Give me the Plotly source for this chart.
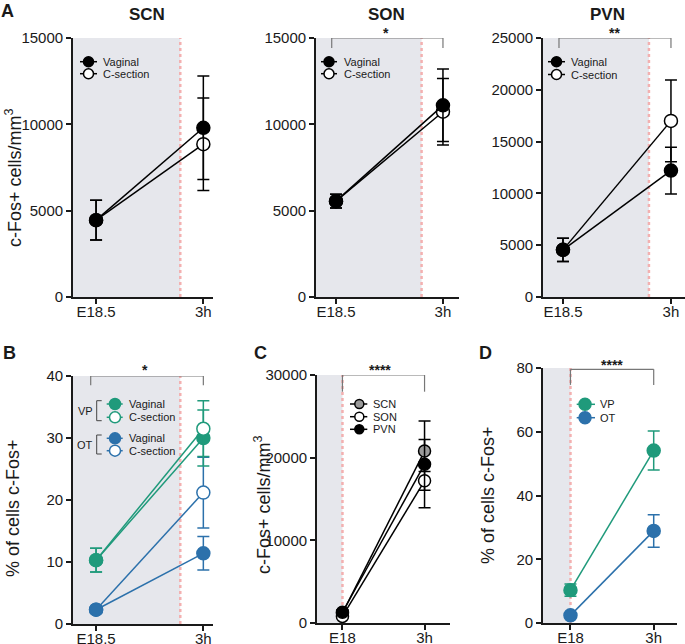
import plotly.graph_objects as go

W, H = 685, 644
FONT = "Liberation Sans, Arial, Helvetica, sans-serif"

# ---------------- data ----------------
cats_A = ["E18.5", "3h"]
cats_C = ["E18", "3h"]

scn_vag = [4450, 9800];   scn_vag_err = [1150, 3000]
scn_cs = [4450, 8850];    scn_cs_err = [1150, 2680]
son_vag = [5550, 11100];  son_vag_err = [400, 2100]
son_cs = [5550, 10730];   son_cs_err = [400, 1930]
pvn_vag = [4550, 12200];  pvn_vag_err = [1120, 2260]
pvn_cs = [4550, 17000];   pvn_cs_err = [1120, 3950]

vp_vag = [10.3, 30.0];    vp_vag_err = [1.9, 4.5]
vp_cs = [10.3, 31.5];     vp_cs_err = [1.9, 4.5]
ot_vag = [2.3, 11.4];     ot_vag_err = [0.3, 2.7]
ot_cs = [2.3, 21.2];      ot_cs_err = [0.3, 5.7]

c_scn = [1200, 20800];    c_scn_err = [300, 1400]
c_son = [800, 17200];     c_son_err = [200, 1130]
c_pvn = [1300, 19200];    c_pvn_err = [300, 5250]

d_vp = [10.3, 54.1];      d_vp_err = [1.9, 6.1]
d_ot = [2.4, 28.9];       d_ot_err = [0.4, 5.1]

ticks_A = [0, 5000, 10000, 15000]
ticks_PVN = [0, 5000, 10000, 15000, 20000, 25000]
ticks_B = [0, 10, 20, 30, 40]
ticks_C = [0, 10000, 20000, 30000]
ticks_D = [0, 20, 40, 60, 80]

TEAL = "#1f9a7b"
BLUE = "#2c71ab"
GRAY_FILL = "#9a9a9a"
SHADE = "#e6e7ec"
RED = "#f3b0b0"
AX = "#1a1a1a"


def px(x):
    return x / W


def py(y):
    return 1 - y / H


# panel geometry (pixels): id, left, right, top, bottom, xrange, yrange, ticks, cats, redline
panels = [
    ("", 73, 213, 38, 297, [-0.215, 1.09], [0, 15000], ticks_A, cats_A, 0.785),
    ("2", 316, 459, 38, 297, [-0.187, 1.15], [0, 15000], ticks_A, cats_A, 0.80),
    ("3", 543, 685, 38, 297, [-0.185, 1.13], [0, 25000], ticks_PVN, cats_A, 0.796),
    ("4", 73, 213, 376, 624, [-0.215, 1.09], [0, 40], ticks_B, cats_A, 0.785),
    ("5", 317, 450, 375, 623, [-0.31, 1.31], [0, 30000], ticks_C, cats_C, 0.0),
    ("6", 543, 677, 368, 623, [-0.33, 1.28], [0, 80], ticks_D, cats_C, 0.0),
]

fig = go.Figure()
layout = dict(
    width=W, height=H, autosize=False,
    margin=dict(l=0, r=0, t=0, b=0, pad=0, autoexpand=False),
    paper_bgcolor="white", plot_bgcolor="rgba(0,0,0,0)",
    showlegend=False,
    font=dict(family=FONT, color=AX),
)
shapes = []
annotations = []

for pid, l, r, t, b, xr, yr, tv, cats, red in panels:
    layout["xaxis" + pid] = dict(
        domain=[px(l), px(r)], anchor="y" + pid, type="category",
        categoryorder="array", categoryarray=cats, automargin=False,
        range=xr, showline=True, linecolor=AX, linewidth=1.7,
        ticks="outside", ticklen=5, tickwidth=1.5, tickcolor=AX,
        ticklabelstandoff=-5,
        showgrid=False, zeroline=False, tickfont=dict(size=15, family=FONT, color=AX),
        fixedrange=True,
    )
    layout["yaxis" + pid] = dict(
        domain=[py(b), py(t)], anchor="x" + pid, automargin=False,
        range=yr, showline=True, linecolor=AX, linewidth=1.7,
        ticks="outside", ticklen=5, tickwidth=1.5, tickcolor=AX,
        tickvals=tv, tickformat="d",
        showgrid=False, zeroline=False, tickfont=dict(size=15, family=FONT, color=AX),
        fixedrange=True,
    )
    xa = "x" + pid
    ya = "y" + pid
    shapes.append(dict(type="rect", xref=xa, yref=ya, x0=xr[0], x1=red, y0=yr[0], y1=yr[1],
                       fillcolor=SHADE, line=dict(width=0), layer="below"))
    shapes.append(dict(type="line", xref=xa, yref=ya, x0=red, x1=red, y0=yr[0], y1=yr[1],
                       line=dict(color=RED, width=2.5, dash="dot"), layer="below"))


def add_series(pid, cats, y, err, color, fill, size=13, width=6):
    fig.add_trace(go.Scatter(
        x=cats, y=y, xaxis="x" + pid, yaxis="y" + pid, mode="lines+markers",
        line=dict(color=color, width=1.5),
        marker=dict(size=size, color=fill, line=dict(color=color, width=1.5)),
        error_y=dict(type="data", array=err, color=color, thickness=1.5, width=width),
        cliponaxis=False, hoverinfo="skip",
    ))


# Panel A
add_series("", cats_A, scn_cs, scn_cs_err, "black", ["black", "white"])
add_series("", cats_A, scn_vag, scn_vag_err, "black", "black")
add_series("2", cats_A, son_cs, son_cs_err, "black", ["black", "white"])
add_series("2", cats_A, son_vag, son_vag_err, "black", "black")
add_series("3", cats_A, pvn_cs, pvn_cs_err, "black", ["black", "white"])
add_series("3", cats_A, pvn_vag, pvn_vag_err, "black", "black")
# Panel B
add_series("4", cats_A, ot_vag, ot_vag_err, BLUE, BLUE)
add_series("4", cats_A, ot_cs, ot_cs_err, BLUE, [BLUE, "white"])
add_series("4", cats_A, vp_vag, vp_vag_err, TEAL, TEAL)
add_series("4", cats_A, vp_cs, vp_cs_err, TEAL, [TEAL, "white"])
# Panel C
add_series("5", cats_C, c_scn, c_scn_err, "black", GRAY_FILL, size=12)
add_series("5", cats_C, c_son, c_son_err, "black", "white", size=12)
add_series("5", cats_C, c_pvn, c_pvn_err, "black", "black", size=12)
# Panel D
add_series("6", cats_C, d_vp, d_vp_err, TEAL, TEAL)
add_series("6", cats_C, d_ot, d_ot_err, BLUE, BLUE)


# significance brackets (data coords)
def bracket(pid, x0, x1, ytop, ybot, color="#777777"):
    xa, ya = "x" + pid, "y" + pid
    for (a, b_, c, d) in [(x0, x0, ytop, ybot), (x0, x1, ytop, ytop), (x1, x1, ytop, ybot)]:
        shapes.append(dict(type="line", xref=xa, yref=ya, x0=a, x1=b_, y0=c, y1=d,
                           line=dict(color=color, width=1.2)))


bracket("2", -0.04, 1, 15000, 14420)
bracket("3", -0.037, 1, 25000, 24035)
bracket("4", -0.05, 1, 40, 38.5)
bracket("5", 0, 1, 30000, 27980)
bracket("6", 0, 1, 79.6, 74.7)


def text(x, y, s, size=11, bold=False, anchor="left", angle=0, color=AX):
    annotations.append(dict(
        xref="paper", yref="paper", x=px(x), y=py(y), text=("<b>%s</b>" % s) if bold else s,
        showarrow=False, xanchor=anchor, yanchor="middle", textangle=angle,
        font=dict(size=size, family=FONT, color=color),
    ))


# stars
text(386, 33, "*", size=14, bold=True, anchor="center")
text(614, 33, "**", size=14, bold=True, anchor="center")
text(145, 370, "*", size=14, bold=True, anchor="center")
text(380, 370, "****", size=14, bold=True, anchor="center")
text(612, 365, "****", size=14, bold=True, anchor="center")

# panel titles and letters
text(147, 15, "SCN", size=17, bold=True, anchor="center")
text(387, 15, "SON", size=17, bold=True, anchor="center")
text(607, 15, "PVN", size=17, bold=True, anchor="center")
text(8, 11, "A", size=18, bold=True, anchor="center")
text(9, 353, "B", size=18, bold=True, anchor="center")
text(260, 353, "C", size=18, bold=True, anchor="center")
text(485, 353, "D", size=18, bold=True, anchor="center")

# y-axis titles
text(13, 178, "c-Fos+ cells/mm<sup>3</sup>", size=18, anchor="center", angle=-90)
text(13, 508, "% of cells c-Fos+", size=18, anchor="center", angle=-90)
text(262, 505, "c-Fos+ cells/mm<sup>3</sup>", size=18, anchor="center", angle=-90)
text(488, 495, "% of cells c-Fos+", size=18, anchor="center", angle=-90)


# legends (drawn manually)
def legend_row(x0, x1, xm, xt, y, label, color, fill, d=10):
    shapes.append(dict(type="line", xref="paper", yref="paper", x0=px(x0), x1=px(x1),
                       y0=py(y), y1=py(y), line=dict(color=color, width=1.5)))
    r = d / 2
    shapes.append(dict(type="circle", xref="paper", yref="paper", xsizemode="pixel", ysizemode="pixel",
                       xanchor=px(xm), yanchor=py(y), x0=-r, x1=r, y0=-r, y1=r,
                       fillcolor=fill, line=dict(color=color, width=1.5)))
    text(xt, y, label, size=11)


legend_row(80, 97, 88.5, 101, 61.7, "Vaginal", "black", "black")
legend_row(80, 97, 88.5, 101, 73.7, "C-section", "black", "white")
legend_row(321, 337, 329, 341.5, 61.7, "Vaginal", "black", "black")
legend_row(321, 337, 329, 341.5, 73.7, "C-section", "black", "white")
legend_row(548, 565, 556.5, 569, 61.7, "Vaginal", "black", "black")
legend_row(548, 565, 556.5, 569, 74.5, "C-section", "black", "white")

legend_row(106.7, 122.7, 115, 126.7, 404, "Vaginal", TEAL, TEAL, d=11)
legend_row(106.7, 122.7, 115, 126.7, 417.3, "C-section", TEAL, "white", d=11)
legend_row(106.7, 122.7, 115, 126.7, 438.3, "Vaginal", BLUE, BLUE, d=11)
legend_row(106.7, 122.7, 115, 126.7, 450.7, "C-section", BLUE, "white", d=11)
text(85, 410.7, "VP", size=11, anchor="center")
text(85, 444.5, "OT", size=11, anchor="center")
for (ya_, yb_) in [(400.7, 420.7), (435, 454)]:
    for (a, b_, c, d) in [(96.7, 96.7, ya_, yb_), (96.7, 101.7, ya_, ya_), (96.7, 101.7, yb_, yb_)]:
        shapes.append(dict(type="line", xref="paper", yref="paper", x0=px(a), x1=px(b_),
                           y0=py(c), y1=py(d), line=dict(color="#444444", width=1)))

legend_row(350, 367.3, 359.3, 370.7, 404, "SCN", "black", GRAY_FILL, d=9)
legend_row(350, 367.3, 359.3, 370.7, 416.7, "SON", "black", "white", d=9)
legend_row(350, 367.3, 359.3, 370.7, 429.3, "PVN", "black", "black", d=9)

legend_row(576.7, 595, 585, 598.3, 404.3, "VP", TEAL, TEAL, d=12)
legend_row(576.7, 595, 585, 598.3, 417.7, "OT", BLUE, BLUE, d=12)

layout["shapes"] = shapes
layout["annotations"] = annotations
fig.update_layout(**layout)
fig.write_html(
    "out.html",
    config={"displayModeBar": False, "responsive": False},
    post_script="document.body.style.margin='0';document.body.style.overflow='hidden';",
)
